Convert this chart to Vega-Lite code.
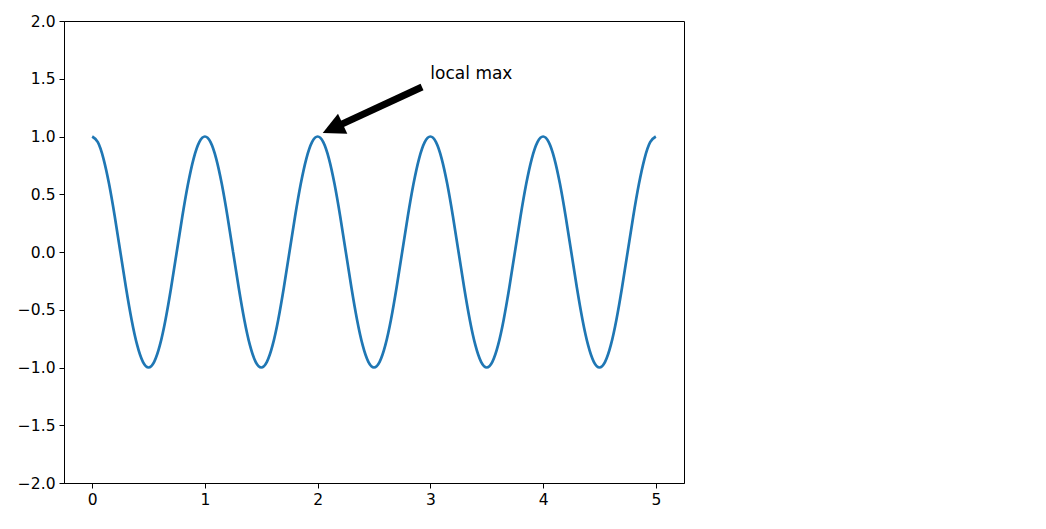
{
  "$schema": "https://vega.github.io/schema/vega-lite/v6.json",
  "autosize": {"type": "none"},
  "width": 620,
  "height": 462,
  "padding": {"left": 64, "top": 21, "right": 362, "bottom": 46},
  "background": "white",
  "config": {
    "view": {"stroke": "black", "strokeWidth": 1},
    "axis": {
      "grid": false,
      "labelFont": "DejaVu Sans",
      "labelFontSize": 15.5,
      "labelColor": "black",
      "tickColor": "black",
      "domainColor": "black",
      "tickSize": 5,
      "labelPadding": 4,
      "title": null
    }
  },
  "datasets": {
    "curve": [
      {"t":0,"y":1},{"t":0.05,"y":0.9511},{"t":0.1,"y":0.809},{"t":0.15,"y":0.5878},{"t":0.2,"y":0.309},{"t":0.25,"y":0},{"t":0.3,"y":-0.309},{"t":0.35,"y":-0.5878},{"t":0.4,"y":-0.809},{"t":0.45,"y":-0.9511},
      {"t":0.5,"y":-1},{"t":0.55,"y":-0.9511},{"t":0.6,"y":-0.809},{"t":0.65,"y":-0.5878},{"t":0.7,"y":-0.309},{"t":0.75,"y":0},{"t":0.8,"y":0.309},{"t":0.85,"y":0.5878},{"t":0.9,"y":0.809},{"t":0.95,"y":0.9511},
      {"t":1,"y":1},{"t":1.05,"y":0.9511},{"t":1.1,"y":0.809},{"t":1.15,"y":0.5878},{"t":1.2,"y":0.309},{"t":1.25,"y":0},{"t":1.3,"y":-0.309},{"t":1.35,"y":-0.5878},{"t":1.4,"y":-0.809},{"t":1.45,"y":-0.9511},
      {"t":1.5,"y":-1},{"t":1.55,"y":-0.9511},{"t":1.6,"y":-0.809},{"t":1.65,"y":-0.5878},{"t":1.7,"y":-0.309},{"t":1.75,"y":0},{"t":1.8,"y":0.309},{"t":1.85,"y":0.5878},{"t":1.9,"y":0.809},{"t":1.95,"y":0.9511},
      {"t":2,"y":1},{"t":2.05,"y":0.9511},{"t":2.1,"y":0.809},{"t":2.15,"y":0.5878},{"t":2.2,"y":0.309},{"t":2.25,"y":0},{"t":2.3,"y":-0.309},{"t":2.35,"y":-0.5878},{"t":2.4,"y":-0.809},{"t":2.45,"y":-0.9511},
      {"t":2.5,"y":-1},{"t":2.55,"y":-0.9511},{"t":2.6,"y":-0.809},{"t":2.65,"y":-0.5878},{"t":2.7,"y":-0.309},{"t":2.75,"y":0},{"t":2.8,"y":0.309},{"t":2.85,"y":0.5878},{"t":2.9,"y":0.809},{"t":2.95,"y":0.9511},
      {"t":3,"y":1},{"t":3.05,"y":0.9511},{"t":3.1,"y":0.809},{"t":3.15,"y":0.5878},{"t":3.2,"y":0.309},{"t":3.25,"y":0},{"t":3.3,"y":-0.309},{"t":3.35,"y":-0.5878},{"t":3.4,"y":-0.809},{"t":3.45,"y":-0.9511},
      {"t":3.5,"y":-1},{"t":3.55,"y":-0.9511},{"t":3.6,"y":-0.809},{"t":3.65,"y":-0.5878},{"t":3.7,"y":-0.309},{"t":3.75,"y":0},{"t":3.8,"y":0.309},{"t":3.85,"y":0.5878},{"t":3.9,"y":0.809},{"t":3.95,"y":0.9511},
      {"t":4,"y":1},{"t":4.05,"y":0.9511},{"t":4.1,"y":0.809},{"t":4.15,"y":0.5878},{"t":4.2,"y":0.309},{"t":4.25,"y":0},{"t":4.3,"y":-0.309},{"t":4.35,"y":-0.5878},{"t":4.4,"y":-0.809},{"t":4.45,"y":-0.9511},
      {"t":4.5,"y":-1},{"t":4.55,"y":-0.9511},{"t":4.6,"y":-0.809},{"t":4.65,"y":-0.5878},{"t":4.7,"y":-0.309},{"t":4.75,"y":0},{"t":4.8,"y":0.309},{"t":4.85,"y":0.5878},{"t":4.9,"y":0.809},{"t":4.95,"y":0.9511},
      {"t":5,"y":1}
    ],
    "arrow": [{"t": 2.926, "y": 1.429, "t2": 2.2, "y2": 1.1, "tipT": 2.045, "tipY": 1.03, "label": "local max", "textT": 3, "textY": 1.5}]
  },
  "encoding": {},
  "layer": [
    {
      "data": {"name": "curve"},
      "mark": {"type": "line", "color": "#1f77b4", "strokeWidth": 2.7, "interpolate": "natural", "clip": true},
      "encoding": {
        "x": {"field": "t", "type": "quantitative", "scale": {"domain": [-0.25, 5.25], "nice": false, "zero": false},
              "axis": {"values": [0, 1, 2, 3, 4, 5], "format": "d"}},
        "y": {"field": "y", "type": "quantitative", "scale": {"domain": [-2, 2], "nice": false},
              "axis": {"values": [-2, -1.5, -1, -0.5, 0, 0.5, 1, 1.5, 2], "format": ".1f"}}
      }
    },
    {
      "data": {"name": "arrow"},
      "mark": {"type": "rule", "color": "black", "strokeWidth": 7, "strokeCap": "butt"},
      "encoding": {
        "x": {"field": "t", "type": "quantitative"},
        "y": {"field": "y", "type": "quantitative"},
        "x2": {"field": "t2"},
        "y2": {"field": "y2"}
      }
    },
    {
      "data": {"name": "arrow"},
      "mark": {"type": "point", "shape": "M0,0 L-0.5,1 L0.5,1 Z", "filled": true, "color": "black", "opacity": 1, "size": 1936, "angle": 245, "strokeWidth": 0},
      "encoding": {
        "x": {"field": "tipT", "type": "quantitative"},
        "y": {"field": "tipY", "type": "quantitative"}
      }
    },
    {
      "data": {"name": "arrow"},
      "mark": {"type": "text", "align": "left", "baseline": "alphabetic", "font": "DejaVu Sans", "fontSize": 17, "color": "black"},
      "encoding": {
        "x": {"field": "textT", "type": "quantitative"},
        "y": {"field": "textY", "type": "quantitative"},
        "text": {"field": "label"}
      }
    }
  ]
}
